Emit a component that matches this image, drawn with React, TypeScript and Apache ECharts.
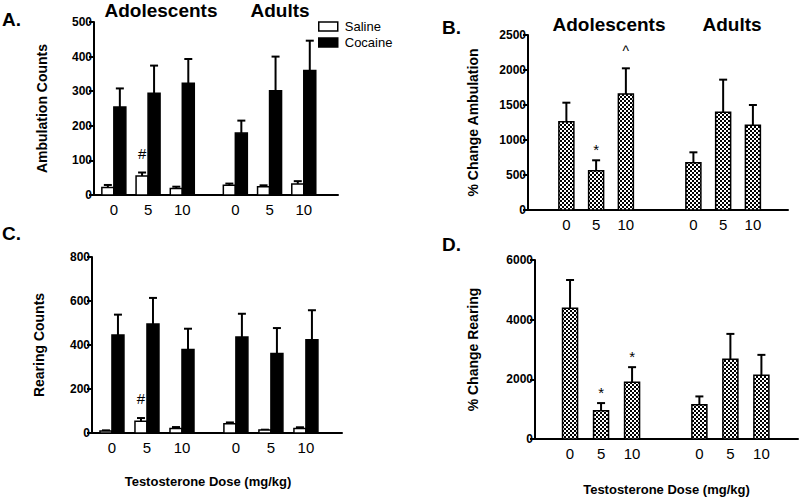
import React, { useEffect, useRef } from "react";
import * as echarts from "echarts";

// ---------- data ----------
const doseLabels = ["0", "5", "10", "0", "5", "10"];
const ageGroups = ["Adolescents", "Adults"];
const seriesNames = ["Saline", "Cocaine"];

const ambSaline = [22, 55, 19, 28, 24, 32];
const ambSalineErr = [29, 65, 24, 33, 28, 40];
const ambCocaine = [254, 294, 323, 179, 301, 360];
const ambCocaineErr = [308, 374, 393, 215, 400, 446];

const rearSaline = [9, 53, 20, 42, 14, 20];
const rearSalineErr = [12, 68, 27, 48, 15, 26];
const rearCocaine = [445, 495, 379, 436, 361, 424];
const rearCocaineErr = [538, 614, 474, 542, 477, 558];

const pctAmb = [1262, 562, 1657, 676, 1395, 1210];
const pctAmbErr = [1533, 710, 2024, 824, 1862, 1500];
const pctRear = [4381, 948, 1906, 1148, 2676, 2140];
const pctRearErr = [5329, 1204, 2408, 1427, 3523, 2820];

const ambSalineMarks = ["", "#", "", "", "", ""];
const rearSalineMarks = ["", "#", "", "", "", ""];
const pctAmbMarks = ["", "*", "^", "", "", ""];
const pctRearMarks = ["", "*", "*", "", "", ""];

const panelLetters = ["A.", "B.", "C.", "D."];
const xTitle = "Testosterone Dose (mg/kg)";

// ---------- styling ----------
const FONT = '"Liberation Sans", Arial, Helvetica, sans-serif';
const INK = "#000";

function makePattern(): any {
  const c = document.createElement("canvas");
  c.width = 4;
  c.height = 4;
  const ctx = c.getContext("2d")!;
  ctx.fillStyle = "#fff";
  ctx.fillRect(0, 0, 4, 4);
  ctx.fillStyle = "#000";
  ctx.fillRect(0, 0, 2, 2);
  ctx.fillRect(2, 2, 2, 2);
  return { image: c, repeat: "repeat" };
}

const markGap: Record<string, number> = { "#": 12, "*": 3, "^": 10 };
const markSize: Record<string, number> = { "#": 15, "*": 15, "^": 14 };

function barRenderer(offsetPx: number, widthPx: number, fill: any, marks: string[]) {
  return (params: any, api: any) => {
    const x = api.value(0);
    const v = api.value(1);
    const e = api.value(2);
    const base = api.coord([x, 0]);
    const top = api.coord([x, v]);
    const errTop = api.coord([x, e]);
    const left = base[0] + offsetPx;
    const cx = left + widthPx / 2;
    const cap = 8;
    const children: any[] = [
      {
        type: "line",
        shape: { x1: cx, y1: top[1], x2: cx, y2: errTop[1] },
        style: { stroke: INK, lineWidth: 2 },
      },
      {
        type: "line",
        shape: { x1: cx - cap / 2, y1: errTop[1], x2: cx + cap / 2, y2: errTop[1] },
        style: { stroke: INK, lineWidth: 2 },
      },
      {
        type: "rect",
        shape: { x: left, y: top[1], width: widthPx, height: base[1] - top[1] },
        style: { fill, stroke: INK, lineWidth: 1.5 },
      },
    ];
    const m = marks[params.dataIndex];
    if (m) {
      children.push({
        type: "text",
        x: cx,
        y: errTop[1] - (markGap[m] ?? 4),
        style: {
          text: m,
          fill: INK,
          font: `${markSize[m] ?? 14}px ${FONT}`,
          align: "center",
          verticalAlign: "bottom",
        },
      });
    }
    return { type: "group", children };
  };
}

type SeriesSpec = { name: string; values: number[]; errs: number[]; marks: string[]; offset: number; width: number; fill: any };

export default function App() {
  const ref = useRef<HTMLDivElement>(null);

  useEffect(() => {
    if (!ref.current) return;
    const chart = echarts.init(ref.current, undefined, { renderer: "svg" });
    const pattern = makePattern();

    const panels = [
      {
        grid: { left: 94, top: 22, width: 244, height: 173 },
        xMin: -0.58, xMax: 6.55, gap: 0.55,
        yMax: 500, yInterval: 100, yName: "Ambulation Counts", nameGap: 45,
        xName: "", xNameGap: 0, xNamePad: 0,
        series: [
          { name: seriesNames[0], values: ambSaline, errs: ambSalineErr, marks: ambSalineMarks, offset: -12, width: 12, fill: "#fff" },
          { name: seriesNames[1], values: ambCocaine, errs: ambCocaineErr, marks: [], offset: 0, width: 12, fill: "#000" },
        ] as SeriesSpec[],
      },
      {
        grid: { left: 528, top: 35, width: 260, height: 175 },
        xMin: -1.29, xMax: 7.45, gap: 1.27,
        yMax: 2500, yInterval: 500, yName: "% Change Ambulation", nameGap: 48,
        xName: "", xNameGap: 0, xNamePad: 0,
        series: [
          { name: "pctAmb", values: pctAmb, errs: pctAmbErr, marks: pctAmbMarks, offset: -7.5, width: 15, fill: pattern },
        ] as SeriesSpec[],
      },
      {
        grid: { left: 92, top: 257, width: 250, height: 176 },
        xMin: -0.57, xMax: 6.57, gap: 0.54,
        yMax: 800, yInterval: 200, yName: "Rearing Counts", nameGap: 46,
        xName: xTitle, xNameGap: 42, xNamePad: 18,
        series: [
          { name: seriesNames[0], values: rearSaline, errs: rearSalineErr, marks: rearSalineMarks, offset: -12, width: 12, fill: "#fff" },
          { name: seriesNames[1], values: rearCocaine, errs: rearCocaineErr, marks: [], offset: 0, width: 12, fill: "#000" },
        ] as SeriesSpec[],
      },
      {
        grid: { left: 535, top: 260, width: 263, height: 179 },
        xMin: -1.13, xMax: 7.35, gap: 1.17,
        yMax: 6000, yInterval: 2000, yName: "% Change Rearing", nameGap: 55,
        xName: xTitle, xNameGap: 44, xNamePad: 0,
        series: [
          { name: "pctRear", values: pctRear, errs: pctRearErr, marks: pctRearMarks, offset: -7.5, width: 15, fill: pattern },
        ] as SeriesSpec[],
      },
    ];

    const grids: any[] = [];
    const xAxes: any[] = [];
    const yAxes: any[] = [];
    const series: any[] = [];

    panels.forEach((p, gi) => {
      const positions = doseLabels.map((_, i) => i + (i >= 3 ? p.gap : 0));
      grids.push({ ...p.grid, containLabel: false });
      xAxes.push({
        type: "value",
        gridIndex: gi,
        min: p.xMin,
        max: p.xMax,
        axisLine: { show: true, onZero: false, lineStyle: { color: INK, width: 2 } },
        axisTick: { show: false },
        splitLine: { show: false },
        axisLabel: {
          customValues: positions,
          formatter: (v: number) => {
            const idx = positions.findIndex((q) => Math.abs(q - v) < 1e-6);
            return idx >= 0 ? doseLabels[idx] : "";
          },
          color: INK,
          fontFamily: FONT,
          fontSize: 15,
          margin: 7,
        },
        name: p.xName,
        nameLocation: "middle",
        nameGap: p.xNameGap,
        nameTextStyle: {
          color: INK,
          fontFamily: FONT,
          fontWeight: "bold",
          fontSize: 13,
          padding: [0, p.xNamePad, 0, 0],
        },
      });
      yAxes.push({
        type: "value",
        gridIndex: gi,
        min: 0,
        max: p.yMax,
        interval: p.yInterval,
        axisLine: { show: true, onZero: false, lineStyle: { color: INK, width: 2 } },
        axisTick: { show: true, length: 5, lineStyle: { color: INK, width: 2 } },
        splitLine: { show: false },
        axisLabel: {
          color: INK,
          fontFamily: FONT,
          fontWeight: "bold",
          fontSize: 12,
          margin: 2,
          formatter: (v: number) => String(v),
        },
        name: p.yName,
        nameLocation: "middle",
        nameGap: p.nameGap,
        nameTextStyle: { color: INK, fontFamily: FONT, fontWeight: "bold", fontSize: 14 },
      });
      p.series.forEach((s) => {
        series.push({
          type: "custom",
          name: s.name,
          xAxisIndex: gi,
          yAxisIndex: gi,
          clip: false,
          itemStyle: { color: typeof s.fill === "string" ? s.fill : "#888", borderColor: INK, borderWidth: 1.5 },
          encode: { x: 0, y: 1 },
          data: positions.map((pos, i) => [pos, s.values[i], s.errs[i]]),
          renderItem: barRenderer(s.offset, s.width, s.fill, s.marks),
        });
      });
    });

    const bigText = (text: string, x: number, y: number, align: string, size: number) => ({
      type: "text",
      x,
      y,
      style: { text, fill: INK, font: `bold ${size}px ${FONT}`, align, verticalAlign: "middle" },
    });

    const graphic: any[] = [
      bigText(panelLetters[0], 2, 19, "left", 19),
      bigText(panelLetters[1], 442, 27, "left", 19),
      bigText(panelLetters[2], 2, 233, "left", 19),
      bigText(panelLetters[3], 442, 244, "left", 19),
      bigText(ageGroups[0], 161, 10, "center", 19),
      bigText(ageGroups[1], 280, 10, "center", 19),
      bigText(ageGroups[0], 609, 24, "center", 19),
      bigText(ageGroups[1], 732, 24, "center", 19),
    ];

    chart.setOption({
      animation: false,
      backgroundColor: "#fff",
      grid: grids,
      xAxis: xAxes,
      yAxis: yAxes,
      legend: {
        left: 318,
        top: 20,
        orient: "vertical",
        icon: "rect",
        itemWidth: 19,
        itemHeight: 9,
        itemGap: 3,
        selectedMode: false,
        padding: 0,
        textStyle: { color: INK, fontFamily: FONT, fontSize: 13, padding: [0, 0, 0, 2] },
        data: [
          { name: seriesNames[0], itemStyle: { color: "#fff", borderColor: INK, borderWidth: 1.5 } },
          { name: seriesNames[1], itemStyle: { color: "#000", borderColor: INK, borderWidth: 1.5 } },
        ],
      },
      graphic,
      series,
    });

    return () => chart.dispose();
  }, []);

  return (
    <div
      ref={ref}
      style={{ position: "fixed", left: 0, top: 0, width: 800, height: 499, background: "#fff" }}
    />
  );
}
